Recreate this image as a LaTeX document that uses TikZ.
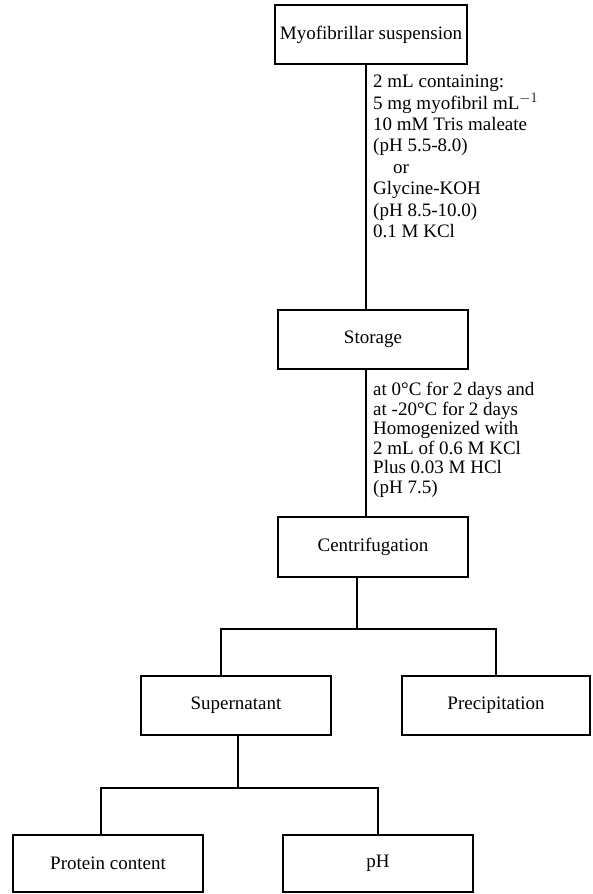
\documentclass[tikz,border=0pt]{standalone}
\usepackage{fontspec}
\setmainfont{Liberation Serif}
\usepackage{tikz}

\begin{document}
\begin{tikzpicture}[x=1pt, y=-1pt,
  box/.style={draw, line width=2.6pt, minimum width=190pt, minimum height=59pt, inner sep=0pt,
    font=\fontsize{19}{19}\selectfont},
  note/.style={anchor=north west, inner sep=0pt, align=left},
  link/.style={line width=2.6pt}]

\useasboundingbox (0,0) rectangle (592,894);

\node [box, minimum width=192pt] (myo) at (371,34.5) {Myofibrillar suspension};
\node [box] (storage) at (373,339.5) {Storage};
\node [box, minimum height=60pt] (centrif) at (373,547) {Centrifugation};
\node [box] (super) at (236,705.5) {Supernatant};
\node [box, minimum width=188pt] (precip) at (496,705.5) {Precipitation};
\node [box, minimum height=57pt] (protein) at (108,863.5) {Protein content};
\node [box, minimum height=57pt] (ph) at (378,863.5) {pH};

\coordinate (split1) at (357,629);
\coordinate (split2) at (238,788);

\draw [link] ([xshift=-7pt]storage.north) -- ([xshift=-7pt]storage.north |- myo.south);
\draw [link] ([xshift=-7pt]centrif.north) -- ([xshift=-7pt]centrif.north |- storage.south);
\draw [link] ([xshift=-16pt]centrif.south) -- (split1);
\draw [link] ([xshift=-15pt]super.north) |- (split1) -| (precip.north);
\draw [link] ([xshift=2pt]super.south) -- (split2);
\draw [link] ([xshift=-7pt]protein.north) |- (split2) -| (ph.north);

\node [note, font=\fontsize{19}{21.4}\selectfont] (cond1) at (373,75) {2 mL containing:\\
5 mg myofibril mL$^{-1}$\\
10 mM Tris maleate\\
(pH 5.5-8.0)\\
\hspace*{20pt}or\\
Glycine-KOH\\
(pH 8.5-10.0)\\
0.1 M KCl};

\node [note, font=\fontsize{19}{19.5}\selectfont] (cond2) at (373,382) {at 0°C for 2 days and\\
at -20°C for 2 days\\
Homogenized with\\
2 mL of 0.6 M KCl\\
Plus 0.03 M HCl\\
(pH 7.5)};

\end{tikzpicture}
\end{document}
